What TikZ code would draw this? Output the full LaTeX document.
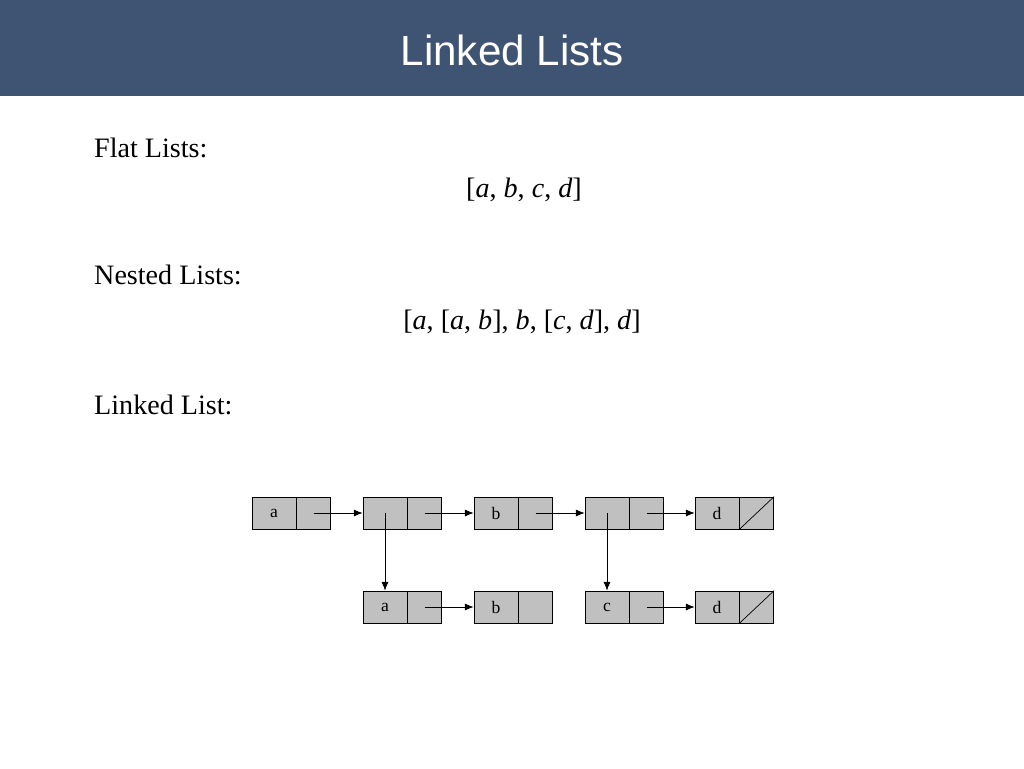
\documentclass[tikz,border=0pt]{standalone}
\usepackage{fontspec}
\setmainfont{Liberation Serif}
\newfontfamily\titlefont{Liberation Sans}
\usetikzlibrary{positioning,arrows.meta}
\definecolor{titleblue}{RGB}{63,84,115}
\definecolor{cellgray}{RGB}{192,192,192}
\tikzset{
  valcell/.style={draw, fill=cellgray, minimum width=0.88cm, minimum height=0.64cm, inner sep=0pt, font=\fontsize{10}{12}\selectfont},
  ptrcell/.style={draw, fill=cellgray, minimum width=0.68cm, minimum height=0.64cm, inner sep=0pt},
  link/.style={-{Latex[length=5pt,width=4pt]}, thin}
}
\begin{document}
\begin{tikzpicture}[x=0.02cm, y=-0.02cm]
\useasboundingbox (0,0) rectangle (1024,768);
% title bar
\fill[titleblue] (0,0) rectangle (1024,96);
\node[text=white, font=\titlefont\fontsize{24}{28}\selectfont] (title) at (512,50) {Linked Lists};

% headings and lists
\node[anchor=west, font=\fontsize{16}{19}\selectfont] (flat) at (88,148) {Flat Lists:};
\node[font=\fontsize{16}{19}\selectfont] (flatlist) at (524,190) {[\textit{a}, \textit{b}, \textit{c}, \textit{d}]};
\node[anchor=west, font=\fontsize{16}{19}\selectfont] (nested) at (88,275) {Nested Lists:};
\node[font=\fontsize{16}{19}\selectfont] (nestedlist) at (522,322) {[\textit{a}, [\textit{a}, \textit{b}], \textit{b}, [\textit{c}, \textit{d}], \textit{d}]};
\node[anchor=west, font=\fontsize{16}{19}\selectfont] (linked) at (88,405) {Linked List:};

% list cells
\foreach \id/\x/\y/\lbl in {ta/252/513/a, tb/363/513/{}, tc/474/513/b, td/585/513/{}, te/695/513/d,
                            ba/363/607/a, bb/474/607/b, bc/585/607/c, bd/695/607/d} {
  \node[valcell] (\id-v) at (\x+22,\y) {\lbl};
  \node[ptrcell, anchor=west] (\id-p) at (\id-v.east) {};
}

% nil pointers
\draw (te-p.south west) -- (te-p.north east);
\draw (bd-p.south west) -- (bd-p.north east);

% links
\draw[link] (ta-p.center) -- (tb-v.west);
\draw[link] (tb-p.center) -- (tc-v.west);
\draw[link] (tc-p.center) -- (td-v.west);
\draw[link] (td-p.center) -- (te-v.west);
\draw[link] (ba-p.center) -- (bb-v.west);
\draw[link] (bc-p.center) -- (bd-v.west);
\draw[link] (tb-v.center) -- (ba-v.north);
\draw[link] (td-v.center) -- (bc-v.north);
\end{tikzpicture}
\end{document}
